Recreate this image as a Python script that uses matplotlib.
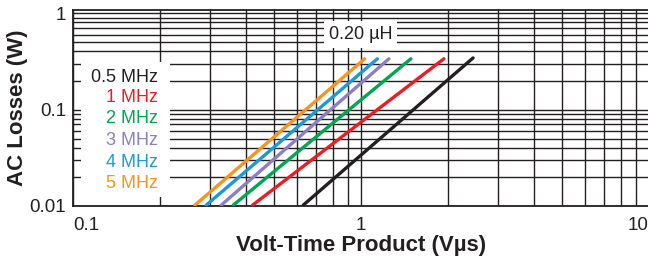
"""
AC losses vs volt-time product, 0.20 uH inductor, log-log chart.
"""

import matplotlib
matplotlib.use("Agg")
import matplotlib.pyplot as plt
from matplotlib.patches import Rectangle
from matplotlib.ticker import NullFormatter, FixedLocator

plt.rcParams['font.family'] = ['Liberation Sans', 'DejaVu Sans']

# ── data ───────────────────────────────────────
freqs = ["0.5 MHz", "1 MHz", "2 MHz", "3 MHz", "4 MHz", "5 MHz"]
colors = ["#231f20", "#ed1c24", "#00a651", "#8b7fc0", "#1b9ad6", "#f7941d"]
vt_start = [0.63, 0.42, 0.36, 0.327, 0.29, 0.265]   # V·us at 0.01 W
vt_end = [2.45, 1.94, 1.49, 1.25, 1.14, 1.03]       # V·us at top end
loss_start = [0.0102, 0.0102, 0.0102, 0.0102, 0.0102, 0.0102]
loss_end = [0.343, 0.336, 0.336, 0.336, 0.336, 0.336]
x_ticks = [0.1, 1, 10]
x_labels = ["0.1", "1", "10"]
y_ticks = [0.01, 0.1, 1]
y_labels = ["0.01", "0.1", "1"]
inductance = "0.20 µH"

ink = "#231f20"

fig = plt.figure(figsize=(6.48, 2.57), dpi=100)
ax = fig.add_axes([73 / 648, 51 / 257, 576 / 648, 196.5 / 257])

ax.set_xscale('log')
ax.set_yscale('log')
ax.set_xlim(0.1, 10)
ax.set_ylim(0.01, 1.09)

# grid
ax.grid(True, which='both', color=ink, lw=1.0, zorder=1)
ax.set_axisbelow(True)
for s in ax.spines.values():
    s.set_color(ink)
    s.set_linewidth(1.3)

# curves
for f, c, x0, x1, y0, y1 in zip(freqs, colors, vt_start, vt_end, loss_start, loss_end):
    ax.plot([x0, x1], [y0, y1], color=c, lw=2.4, solid_capstyle='round', zorder=4)

# ticks
ax.xaxis.set_major_locator(FixedLocator(x_ticks))
ax.set_xticklabels(x_labels)
ax.yaxis.set_major_locator(FixedLocator(y_ticks))
ax.set_yticklabels(y_labels)
ax.xaxis.set_minor_formatter(NullFormatter())
ax.yaxis.set_minor_formatter(NullFormatter())
ax.tick_params(which='both', length=0, labelsize=13.5, colors=ink)
ax.tick_params(axis='x', pad=8)
ax.tick_params(axis='y', pad=5)
xl = ax.get_xticklabels()
xl[0].set_ha('left')
xl[-1].set_ha('right')

ax.set_xlabel("Volt-Time Product (Vµs)", fontsize=16, fontweight='bold', color=ink, labelpad=1)
ax.set_ylabel("AC Losses (W)", fontsize=16, fontweight='bold', color=ink)
ax.yaxis.set_label_coords(-0.078, 0.5)

# legend box
ax.add_patch(Rectangle((0.0135, 0.046), 0.1545, 0.688, transform=ax.transAxes,
                       facecolor='white', edgecolor='none', zorder=3))
ys = [0.656, 0.550, 0.443, 0.331, 0.219, 0.112]
for f, c, y in zip(freqs, colors, ys):
    ax.text(0.148, y, f, transform=ax.transAxes, ha='right', va='center',
            fontsize=13, color=c, zorder=5)

# inductance label
ax.text(0.499, 0.872, inductance, transform=ax.transAxes, ha='center', va='center',
        fontsize=13, color=ink, zorder=5,
        bbox=dict(boxstyle='square,pad=0.28', facecolor='white', edgecolor='none'))

fig.savefig("out.png", dpi=100)
